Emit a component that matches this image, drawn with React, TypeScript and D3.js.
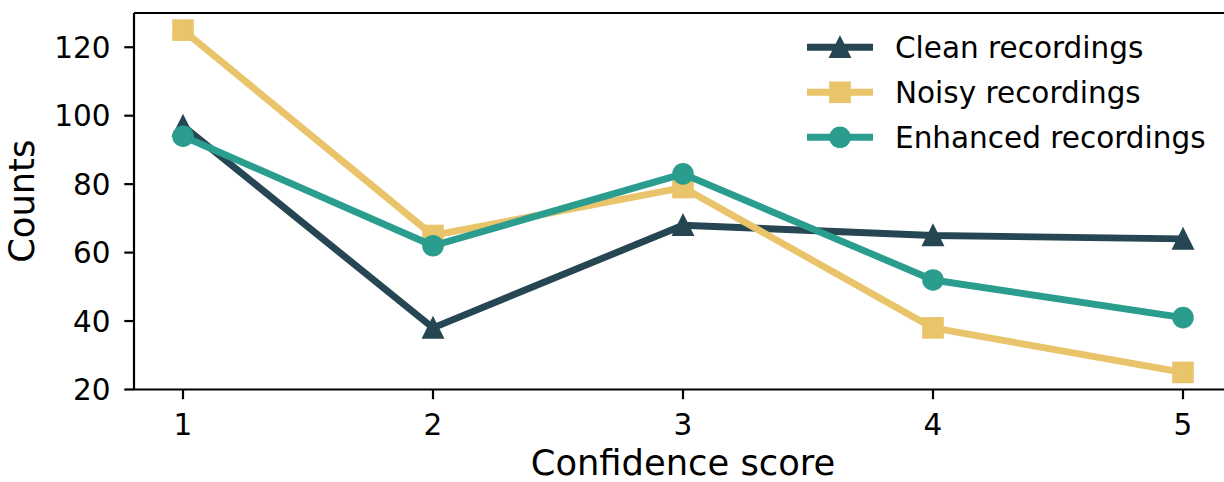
import React from "react";
import * as d3 from "d3";

const scores = [1, 2, 3, 4, 5];
const cleanCounts = [97, 38, 68, 65, 64];
const noisyCounts = [125, 65, 79, 38, 25];
const enhancedCounts = [94, 62, 83, 52, 41];
const yTicks = [20, 40, 60, 80, 100, 120];
const seriesNames = ["Clean recordings", "Noisy recordings", "Enhanced recordings"];

const W = 1224;
const H = 482;
const FONT = "'DejaVu Sans', sans-serif";
const TICK_FS = 29.5;
const LABEL_FS = 35.3;

const series = [
  { name: seriesNames[0], values: cleanCounts, color: "#264653", marker: "triangle" },
  { name: seriesNames[1], values: noisyCounts, color: "#e9c46a", marker: "square" },
  { name: seriesNames[2], values: enhancedCounts, color: "#2a9d8f", marker: "circle" },
];

const MS = 19.4;

function Marker({ type, x, y, color }: { type: string; x: number; y: number; color: string }) {
  const h = MS / 2;
  if (type === "triangle") {
    return (
      <path
        d={`M${x},${y - h} L${x - h},${y + h} L${x + h},${y + h} Z`}
        fill={color}
        stroke={color}
        strokeWidth={2.2}
        strokeLinejoin="miter"
      />
    );
  }
  if (type === "square") {
    return <rect x={x - h} y={y - h} width={MS} height={MS} fill={color} stroke={color} strokeWidth={2.2} />;
  }
  return <circle cx={x} cy={y} r={h} fill={color} stroke={color} strokeWidth={2.2} />;
}

export default function App() {
  const left = 134;
  const top = 13;
  const bottom = 389.5;
  const x = d3.scaleLinear().domain([1, 5]).range([183, 1183]);
  const xDomain = [x.invert(left), x.invert(1232)];
  const y = d3.scaleLinear().domain([20, 130]).range([bottom, top]);
  const line = d3
    .line<number>()
    .x((_, i) => x(scores[i]))
    .y((d) => y(d));

  const right = x(xDomain[1]);

  return (
    <svg
      width={W}
      height={H}
      style={{ position: "absolute", left: 0, top: 0, background: "#fff" }}
      fontFamily={FONT}
    >
      <rect x={0} y={0} width={W} height={H} fill="#fff" />

      {series.map((s) => (
        <g key={s.name}>
          <path
            d={line(s.values) || ""}
            fill="none"
            stroke={s.color}
            strokeWidth={6.9}
            strokeLinejoin="round"
            strokeLinecap="butt"
          />
          {s.values.map((v, i) => (
            <Marker key={i} type={s.marker} x={x(scores[i])} y={y(v)} color={s.color} />
          ))}
        </g>
      ))}

      {/* spines */}
      <g stroke="#000" strokeWidth={2.2} fill="none">
        <line x1={left} y1={top} x2={right} y2={top} />
        <line x1={left} y1={bottom} x2={right} y2={bottom} />
        <line x1={left} y1={top} x2={left} y2={bottom} />
        <line x1={right} y1={top} x2={right} y2={bottom} />
      </g>

      {/* y ticks */}
      {yTicks.map((t) => (
        <g key={t}>
          <line x1={left - 9.7} x2={left} y1={y(t)} y2={y(t)} stroke="#000" strokeWidth={2.2} />
          <text
            x={left - 23.5}
            y={y(t) + TICK_FS * 0.365}
            textAnchor="end"
            fontSize={TICK_FS}
            fill="#000"
          >
            {t}
          </text>
        </g>
      ))}

      {/* x ticks */}
      {scores.map((s) => (
        <g key={s}>
          <line x1={x(s)} x2={x(s)} y1={bottom} y2={bottom + 9.7} stroke="#000" strokeWidth={2.2} />
          <text x={x(s)} y={435} textAnchor="middle" fontSize={TICK_FS} fill="#000">
            {s}
          </text>
        </g>
      ))}

      {/* axis labels */}
      <text x={(x(1) + x(5)) / 2} y={475} textAnchor="middle" fontSize={LABEL_FS} fill="#000">
        Confidence score
      </text>
      <text
        transform={`translate(34,${(top + bottom) / 2}) rotate(-90)`}
        textAnchor="middle"
        fontSize={LABEL_FS}
        fill="#000"
      >
        Counts
      </text>

      {/* legend */}
      {series.map((s, i) => {
        const ry = 47.3 + i * 45;
        return (
          <g key={s.name}>
            <line x1={807} x2={873} y1={ry} y2={ry} stroke={s.color} strokeWidth={6.9} />
            <Marker type={s.marker} x={840} y={ry} color={s.color} />
            <text x={895} y={ry + TICK_FS * 0.365} fontSize={TICK_FS} fill="#000">
              {s.name}
            </text>
          </g>
        );
      })}
    </svg>
  );
}
